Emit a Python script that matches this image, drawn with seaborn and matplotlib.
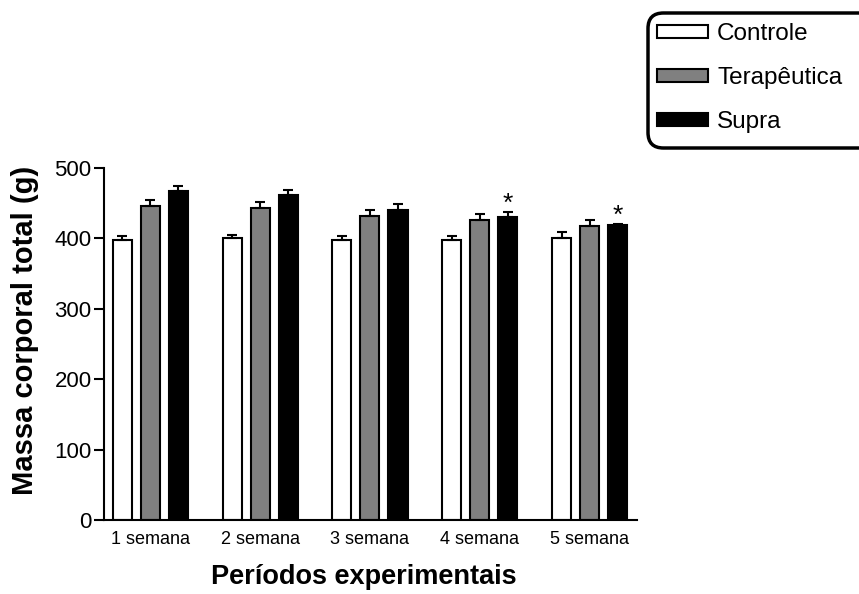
import matplotlib
matplotlib.use("Agg")
import matplotlib.pyplot as plt
from matplotlib.patches import Patch, FancyBboxPatch
import seaborn as sns
import pandas as pd
import numpy as np

# ---- data ----
weeks = ["1 semana", "2 semana", "3 semana", "4 semana", "5 semana"]
groups = ["Controle", "Terapêutica", "Supra"]
controle = [398, 400, 398, 398, 400]
controle_err = [5, 5, 5, 5, 9]
terapeutica = [446, 443, 432, 426, 418]
terapeutica_err = [9, 8, 8, 9, 8]
supra = [467, 461, 441, 430, 419]
supra_err = [8, 8, 8, 8, 2]
star_weeks = ["4 semana", "5 semana"]
yticks = [0, 100, 200, 300, 400, 500]

colors = {"Controle": "white", "Terapêutica": "#808080", "Supra": "black"}

sns.set_style("ticks")
plt.rcParams["font.family"] = ["Liberation Sans", "DejaVu Sans"]
plt.rcParams.update({"text.color": "black", "axes.labelcolor": "black",
                     "xtick.color": "black", "ytick.color": "black"})

rows = []
errs = {}
for g, vals, ers in [("Controle", controle, controle_err),
                     ("Terapêutica", terapeutica, terapeutica_err),
                     ("Supra", supra, supra_err)]:
    for w, v, e in zip(weeks, vals, ers):
        rows.append({"week": w, "group": g, "mass": v})
        errs[(w, g)] = e
df = pd.DataFrame(rows)

W, H = 859, 594
fig = plt.figure(figsize=(W / 100, H / 100), dpi=100)
ax = fig.add_axes([104 / W, 1 - 520 / H, (637 - 104) / W, (520 - 168) / H])

sns.barplot(data=df, x="week", y="mass", hue="group", order=weeks,
            hue_order=groups, palette=colors, edgecolor="black",
            linewidth=1.5, errorbar=None, width=0.765, gap=0.32,
            legend=False, ax=ax)

# error bars (upper only) from the bar patches
bars = sorted([p for p in ax.patches], key=lambda p: p.get_x())
keys = [(w, g) for w in weeks for g in groups]
for p, k in zip(bars, keys):
    xc = p.get_x() + p.get_width() / 2
    h = p.get_height()
    e = errs[k]
    ax.errorbar([xc], [h], yerr=[[0], [e]], fmt="none", ecolor="black",
                elinewidth=1.5, capsize=3.8, capthick=1.5, zorder=1)
    if k[1] == "Supra" and k[0] in star_weeks:
        ax.annotate("*", xy=(xc, h + e), xytext=(0, 0.5),
                    textcoords="offset points", ha="center", va="baseline",
                    fontsize=19, color="black")

ax.set_ylim(0, 500)
ax.set_xlim(-0.42, 4.43)
ax.set_yticks(yticks)
ax.tick_params(axis="y", length=7, width=1.5, labelsize=16, pad=2, color="black")
ax.tick_params(axis="x", length=0, labelsize=13, pad=8)
for s in ["left", "bottom"]:
    ax.spines[s].set_linewidth(1.5)
    ax.spines[s].set_color("black")
sns.despine(ax=ax)
ax.set_xlabel("Períodos experimentais", fontsize=19.5, fontweight="bold")
ax.set_ylabel("Massa corporal total (g)", fontsize=21, fontweight="bold")
ax.xaxis.set_label_coords((364 - 104) / 533, -(564 - 520) / 352)
ax.yaxis.set_label_coords((39 - 104) / 533, (520 - 330) / 352)

# legend (frameless) with a rounded box that runs past the right edge
handles = [Patch(facecolor=colors[g], edgecolor="black", linewidth=1.5) for g in groups]
leg = fig.legend(handles, groups, loc="upper left",
                 bbox_to_anchor=(649 / W, 1 - 15 / H),
                 fontsize=17.5, frameon=False,
                 handlelength=2.1, handleheight=0.45, handletextpad=0.37,
                 labelspacing=0.9, borderpad=0.33, borderaxespad=0)
box = FancyBboxPatch((648 / W, 1 - 148 / H), (900 - 648) / W, (148 - 13) / H,
                     boxstyle="round,pad=0,rounding_size=0.018",
                     transform=fig.transFigure, facecolor="white",
                     edgecolor="black", linewidth=2.5, zorder=0,
                     mutation_aspect=W / H)
fig.patches.append(box)

fig.savefig("out.png", dpi=100)
